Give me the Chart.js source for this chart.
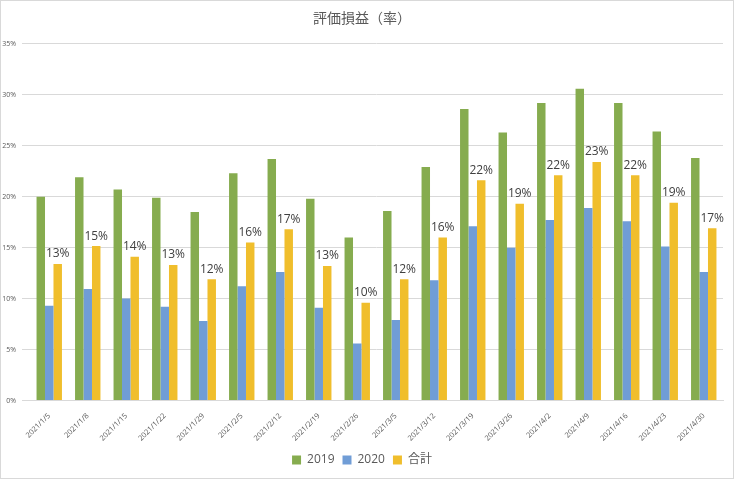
<!DOCTYPE html>
<html>
<head>
<meta charset="utf-8">
<script src="https://cdn.jsdelivr.net/npm/chart.js@4/dist/chart.umd.min.js"></script>
<style>
  html, body { margin: 0; padding: 0; background: #fff; }
  #wrap { position: relative; width: 732px; height: 477px; border: 1px solid #d9d9d9; }
</style>
</head>
<body>
<div id="wrap"><canvas id="c"></canvas></div>
<script>
const dates = ["2021/1/5", "2021/1/8", "2021/1/15", "2021/1/22", "2021/1/29", "2021/2/5", "2021/2/12",
  "2021/2/19", "2021/2/26", "2021/3/5", "2021/3/12", "2021/3/19", "2021/3/26", "2021/4/2",
  "2021/4/9", "2021/4/16", "2021/4/23", "2021/4/30"];
const v2019 = [20.0, 21.9, 20.7, 19.9, 18.5, 22.3, 23.7, 19.8, 16.0, 18.6, 22.9, 28.6, 26.3, 29.2, 30.6, 29.2, 26.4, 23.8];
const v2020 = [9.3, 10.95, 10.0, 9.2, 7.8, 11.2, 12.6, 9.1, 5.6, 7.9, 11.8, 17.1, 15.0, 17.7, 18.9, 17.6, 15.1, 12.6];
const total = [13.4, 15.15, 14.1, 13.3, 11.9, 15.5, 16.8, 13.2, 9.6, 11.9, 16.0, 21.6, 19.3, 22.1, 23.4, 22.1, 19.4, 16.9];
const yTicks = [0, 5, 10, 15, 20, 25, 30, 35];

const fontFam = "'Open Sans', 'Noto Sans CJK JP', sans-serif";

// labels above the 合計 bars
const totalLabels = {
  id: 'totalLabels',
  afterDatasetsDraw(chart) {
    const ctx = chart.ctx;
    const meta = chart.getDatasetMeta(2);
    ctx.save();
    ctx.fillStyle = '#404040';
    ctx.font = "12px " + fontFam;
    ctx.textAlign = 'center';
    ctx.textBaseline = 'bottom';
    meta.data.forEach((bar, i) => {
      ctx.fillText(Math.round(total[i]) + '%', bar.x, bar.y - 4);
    });
    ctx.restore();
  }
};

new Chart(document.getElementById('c'), {
  type: 'bar',
  data: {
    labels: dates,
    datasets: [
      { label: '2019', data: v2019, backgroundColor: '#86ac4f' },
      { label: '2020', data: v2020, backgroundColor: '#709dd6' },
      { label: '合計', data: total, backgroundColor: '#f0be2c' }
    ]
  },
  options: {
    responsive: true,
    maintainAspectRatio: false,
    animation: false,
    layout: { padding: { left: 0, right: 10, top: 4, bottom: 2 } },
    datasets: { bar: { categoryPercentage: 0.66, barPercentage: 1 } },
    plugins: {
      title: {
        display: true,
        text: '評価損益（率）',
        color: '#595959',
        font: { size: 14, family: fontFam, weight: 'normal' },
        padding: { top: 6, bottom: 16 }
      },
      legend: {
        position: 'bottom',
        labels: {
          boxWidth: 9, boxHeight: 9, color: '#595959', padding: 8,
          font: { size: 12, family: fontFam }
        }
      },
      tooltip: { enabled: false }
    },
    scales: {
      x: {
        grid: { display: false },
        border: { color: '#d9d9d9' },
        ticks: {
          color: '#595959', minRotation: 45, maxRotation: 45, autoSkip: false,
          font: { size: 7.5, family: fontFam }
        }
      },
      y: {
        min: 0, max: 35,
        afterBuildTicks(axis) { axis.ticks = yTicks.map(v => ({ value: v })); },
        afterFit(axis) { axis.width = 29; },
        grid: { color: '#d9d9d9' },
        border: { display: false },
        ticks: {
          color: '#595959', padding: 6,
          font: { size: 7, family: fontFam },
          callback: v => v + '%'
        }
      }
    }
  },
  plugins: [totalLabels]
});
</script>
</body>
</html>
